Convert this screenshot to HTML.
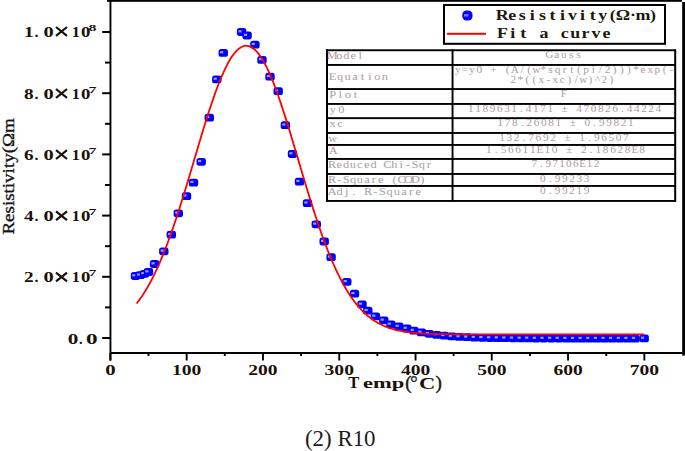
<!DOCTYPE html>
<html><head><meta charset="utf-8"><style>
html,body{margin:0;padding:0;background:#fff;}
body{width:685px;height:451px;overflow:hidden;}
svg{display:block;}
.ax{font-family:"Liberation Serif",serif;font-weight:bold;font-size:15.5px;fill:#1a1208;}
.ax2{font-family:"Liberation Serif",serif;font-size:15.5px;fill:#111;stroke:#111;stroke-width:0.3px;}
.axx{font-family:"Liberation Serif",serif;font-weight:bold;font-size:19px;fill:#1a1208;}
.sup{font-family:"Liberation Serif",serif;font-weight:bold;font-size:9px;fill:#1a1208;}
.tbl{font-family:"Liberation Serif",serif;font-size:10.8px;fill:#ab9ca3;}
.tbr{font-family:"Liberation Serif",serif;font-size:9.8px;fill:#ab9ca3;}
.lg{font-family:"Liberation Serif",serif;font-weight:bold;font-size:13.8px;fill:#20180e;}
.tt{font-family:"Liberation Serif",serif;font-weight:bold;font-size:16.5px;fill:#1a1208;}
.yt{font-family:"Liberation Serif",serif;font-size:17.5px;fill:#151515;stroke:#151515;stroke-width:0.35px;}
.par{font-family:"Liberation Serif",serif;font-size:19px;fill:#151515;stroke:#151515;stroke-width:0.4px;}
.cap{font-family:"Liberation Serif",serif;font-size:22.5px;fill:#1c1c1c;}
</style></head><body>
<svg width="685" height="451" viewBox="0 0 685 451">
<rect width="685" height="451" fill="#fff"/>
<g fill="#000">
<rect x="107" y="0" width="575" height="1.8"/>
<rect x="682.2" y="2" width="2.8" height="353.6"/>
<rect x="109.5" y="0" width="1.9" height="360.5"/>
<rect x="110" y="352" width="575" height="2"/>
<rect x="109.4" y="353" width="1.9" height="7.5"/>
<rect x="147.5" y="353" width="1.9" height="3"/>
<rect x="185.7" y="353" width="1.9" height="7.5"/>
<rect x="223.8" y="353" width="1.9" height="3"/>
<rect x="262.0" y="353" width="1.9" height="7.5"/>
<rect x="300.1" y="353" width="1.9" height="3"/>
<rect x="338.3" y="353" width="1.9" height="7.5"/>
<rect x="376.4" y="353" width="1.9" height="3"/>
<rect x="414.6" y="353" width="1.9" height="7.5"/>
<rect x="452.7" y="353" width="1.9" height="3"/>
<rect x="490.8" y="353" width="1.9" height="7.5"/>
<rect x="529.0" y="353" width="1.9" height="3"/>
<rect x="567.1" y="353" width="1.9" height="7.5"/>
<rect x="605.3" y="353" width="1.9" height="3"/>
<rect x="643.4" y="353" width="1.9" height="7.5"/>
<rect x="102.2" y="337.0" width="8.3" height="2"/>
<rect x="105" y="306.4" width="5.5" height="2"/>
<rect x="102.2" y="275.8" width="8.3" height="2"/>
<rect x="105" y="245.2" width="5.5" height="2"/>
<rect x="102.2" y="214.6" width="8.3" height="2"/>
<rect x="105" y="184.0" width="5.5" height="2"/>
<rect x="102.2" y="153.4" width="8.3" height="2"/>
<rect x="105" y="122.8" width="5.5" height="2"/>
<rect x="102.2" y="92.2" width="8.3" height="2"/>
<rect x="105" y="61.6" width="5.5" height="2"/>
<rect x="102.2" y="31.0" width="8.3" height="2"/>
</g>
<g>
<rect x="130.8" y="272.1" width="9.4" height="7.8" rx="2.6" fill="#0000ff"/><rect x="132.3" y="274.2" width="3.2" height="2.2" fill="#9a9aff"/>
<rect x="135.5" y="271.3" width="9.4" height="7.8" rx="2.6" fill="#0000ff"/><rect x="137.0" y="273.4" width="3.2" height="2.2" fill="#9a9aff"/>
<rect x="139.8" y="269.9" width="9.4" height="7.8" rx="2.6" fill="#0000ff"/><rect x="141.3" y="272.0" width="3.2" height="2.2" fill="#9a9aff"/>
<rect x="143.8" y="268.1" width="9.4" height="7.8" rx="2.6" fill="#0000ff"/><rect x="145.3" y="270.2" width="3.2" height="2.2" fill="#9a9aff"/>
<rect x="149.9" y="260.1" width="9.4" height="7.8" rx="2.6" fill="#0000ff"/><rect x="151.4" y="262.2" width="3.2" height="2.2" fill="#9a9aff"/>
<rect x="159.1" y="247.4" width="9.4" height="7.8" rx="2.6" fill="#0000ff"/><rect x="160.6" y="249.5" width="3.2" height="2.2" fill="#9a9aff"/>
<rect x="166.6" y="230.8" width="9.4" height="7.8" rx="2.6" fill="#0000ff"/><rect x="168.1" y="232.9" width="3.2" height="2.2" fill="#9a9aff"/>
<rect x="173.6" y="209.4" width="9.4" height="7.8" rx="2.6" fill="#0000ff"/><rect x="175.1" y="211.5" width="3.2" height="2.2" fill="#9a9aff"/>
<rect x="181.8" y="192.3" width="9.4" height="7.8" rx="2.6" fill="#0000ff"/><rect x="183.3" y="194.4" width="3.2" height="2.2" fill="#9a9aff"/>
<rect x="188.8" y="178.7" width="9.4" height="7.8" rx="2.6" fill="#0000ff"/><rect x="190.3" y="180.8" width="3.2" height="2.2" fill="#9a9aff"/>
<rect x="196.5" y="157.9" width="9.4" height="7.8" rx="2.6" fill="#0000ff"/><rect x="198.0" y="160.0" width="3.2" height="2.2" fill="#9a9aff"/>
<rect x="204.6" y="113.7" width="9.4" height="7.8" rx="2.6" fill="#0000ff"/><rect x="206.1" y="115.8" width="3.2" height="2.2" fill="#9a9aff"/>
<rect x="212.1" y="75.5" width="9.4" height="7.8" rx="2.6" fill="#0000ff"/><rect x="213.6" y="77.6" width="3.2" height="2.2" fill="#9a9aff"/>
<rect x="218.6" y="49.0" width="9.4" height="7.8" rx="2.6" fill="#0000ff"/><rect x="220.1" y="51.1" width="3.2" height="2.2" fill="#9a9aff"/>
<rect x="236.9" y="28.1" width="9.4" height="7.8" rx="2.6" fill="#0000ff"/><rect x="238.4" y="30.2" width="3.2" height="2.2" fill="#9a9aff"/>
<rect x="242.4" y="31.6" width="9.4" height="7.8" rx="2.6" fill="#0000ff"/><rect x="243.9" y="33.7" width="3.2" height="2.2" fill="#9a9aff"/>
<rect x="250.2" y="40.7" width="9.4" height="7.8" rx="2.6" fill="#0000ff"/><rect x="251.7" y="42.8" width="3.2" height="2.2" fill="#9a9aff"/>
<rect x="257.3" y="56.0" width="9.4" height="7.8" rx="2.6" fill="#0000ff"/><rect x="258.8" y="58.1" width="3.2" height="2.2" fill="#9a9aff"/>
<rect x="265.3" y="72.8" width="9.4" height="7.8" rx="2.6" fill="#0000ff"/><rect x="266.8" y="74.9" width="3.2" height="2.2" fill="#9a9aff"/>
<rect x="273.5" y="87.3" width="9.4" height="7.8" rx="2.6" fill="#0000ff"/><rect x="275.0" y="89.4" width="3.2" height="2.2" fill="#9a9aff"/>
<rect x="280.7" y="121.3" width="9.4" height="7.8" rx="2.6" fill="#0000ff"/><rect x="282.2" y="123.4" width="3.2" height="2.2" fill="#9a9aff"/>
<rect x="287.8" y="150.1" width="9.4" height="7.8" rx="2.6" fill="#0000ff"/><rect x="289.3" y="152.2" width="3.2" height="2.2" fill="#9a9aff"/>
<rect x="294.8" y="177.7" width="9.4" height="7.8" rx="2.6" fill="#0000ff"/><rect x="296.3" y="179.8" width="3.2" height="2.2" fill="#9a9aff"/>
<rect x="302.8" y="199.3" width="9.4" height="7.8" rx="2.6" fill="#0000ff"/><rect x="304.3" y="201.4" width="3.2" height="2.2" fill="#9a9aff"/>
<rect x="311.6" y="220.4" width="9.4" height="7.8" rx="2.6" fill="#0000ff"/><rect x="313.1" y="222.5" width="3.2" height="2.2" fill="#9a9aff"/>
<rect x="319.5" y="237.6" width="9.4" height="7.8" rx="2.6" fill="#0000ff"/><rect x="321.0" y="239.7" width="3.2" height="2.2" fill="#9a9aff"/>
<rect x="326.4" y="253.3" width="9.4" height="7.8" rx="2.6" fill="#0000ff"/><rect x="327.9" y="255.4" width="3.2" height="2.2" fill="#9a9aff"/>
<rect x="342.1" y="277.9" width="9.4" height="7.8" rx="2.6" fill="#0000ff"/><rect x="343.6" y="280.0" width="3.2" height="2.2" fill="#9a9aff"/>
<rect x="349.8" y="289.8" width="9.4" height="7.8" rx="2.6" fill="#0000ff"/><rect x="351.3" y="291.9" width="3.2" height="2.2" fill="#9a9aff"/>
<rect x="357.3" y="300.5" width="9.4" height="7.8" rx="2.6" fill="#0000ff"/><rect x="358.8" y="302.6" width="3.2" height="2.2" fill="#9a9aff"/>
<rect x="363.1" y="306.8" width="9.4" height="7.8" rx="2.6" fill="#0000ff"/><rect x="364.6" y="308.9" width="3.2" height="2.2" fill="#9a9aff"/>
<rect x="370.7" y="312.5" width="9.4" height="7.8" rx="2.6" fill="#0000ff"/><rect x="372.2" y="314.6" width="3.2" height="2.2" fill="#9a9aff"/>
<rect x="379.1" y="316.4" width="9.4" height="7.8" rx="2.6" fill="#0000ff"/><rect x="380.6" y="318.5" width="3.2" height="2.2" fill="#9a9aff"/>
<rect x="386.2" y="320.5" width="9.4" height="7.8" rx="2.6" fill="#0000ff"/><rect x="387.7" y="322.6" width="3.2" height="2.2" fill="#9a9aff"/>
<rect x="394.1" y="322.6" width="9.4" height="7.8" rx="2.6" fill="#0000ff"/><rect x="395.6" y="324.7" width="3.2" height="2.2" fill="#9a9aff"/>
<rect x="402.1" y="324.6" width="9.4" height="7.8" rx="2.6" fill="#0000ff"/><rect x="403.6" y="326.7" width="3.2" height="2.2" fill="#9a9aff"/>
<rect x="409.2" y="326.7" width="9.4" height="7.8" rx="2.6" fill="#0000ff"/><rect x="410.7" y="328.8" width="3.2" height="2.2" fill="#9a9aff"/>
<rect x="416.8" y="328.5" width="9.4" height="7.8" rx="2.6" fill="#0000ff"/><rect x="418.3" y="330.6" width="3.2" height="2.2" fill="#9a9aff"/>
<rect x="424.4" y="329.9" width="9.4" height="7.8" rx="2.6" fill="#0000ff"/><rect x="425.9" y="332.0" width="3.2" height="2.2" fill="#9a9aff"/>
<rect x="432.1" y="331.0" width="9.4" height="7.8" rx="2.6" fill="#0000ff"/><rect x="433.6" y="333.1" width="3.2" height="2.2" fill="#9a9aff"/>
<rect x="439.7" y="331.8" width="9.4" height="7.8" rx="2.6" fill="#0000ff"/><rect x="441.2" y="333.9" width="3.2" height="2.2" fill="#9a9aff"/>
<rect x="447.3" y="332.5" width="9.4" height="7.8" rx="2.6" fill="#0000ff"/><rect x="448.8" y="334.6" width="3.2" height="2.2" fill="#9a9aff"/>
<rect x="454.9" y="333.0" width="9.4" height="7.8" rx="2.6" fill="#0000ff"/><rect x="456.4" y="335.1" width="3.2" height="2.2" fill="#9a9aff"/>
<rect x="462.6" y="333.3" width="9.4" height="7.8" rx="2.6" fill="#0000ff"/><rect x="464.1" y="335.4" width="3.2" height="2.2" fill="#9a9aff"/>
<rect x="470.2" y="333.7" width="9.4" height="7.8" rx="2.6" fill="#0000ff"/><rect x="471.7" y="335.8" width="3.2" height="2.2" fill="#9a9aff"/>
<rect x="477.8" y="333.9" width="9.4" height="7.8" rx="2.6" fill="#0000ff"/><rect x="479.3" y="336.0" width="3.2" height="2.2" fill="#9a9aff"/>
<rect x="485.5" y="334.1" width="9.4" height="7.8" rx="2.6" fill="#0000ff"/><rect x="487.0" y="336.2" width="3.2" height="2.2" fill="#9a9aff"/>
<rect x="493.1" y="334.2" width="9.4" height="7.8" rx="2.6" fill="#0000ff"/><rect x="494.6" y="336.3" width="3.2" height="2.2" fill="#9a9aff"/>
<rect x="500.7" y="334.3" width="9.4" height="7.8" rx="2.6" fill="#0000ff"/><rect x="502.2" y="336.4" width="3.2" height="2.2" fill="#9a9aff"/>
<rect x="508.4" y="334.4" width="9.4" height="7.8" rx="2.6" fill="#0000ff"/><rect x="509.9" y="336.5" width="3.2" height="2.2" fill="#9a9aff"/>
<rect x="516.0" y="334.5" width="9.4" height="7.8" rx="2.6" fill="#0000ff"/><rect x="517.5" y="336.6" width="3.2" height="2.2" fill="#9a9aff"/>
<rect x="523.6" y="334.5" width="9.4" height="7.8" rx="2.6" fill="#0000ff"/><rect x="525.1" y="336.6" width="3.2" height="2.2" fill="#9a9aff"/>
<rect x="531.2" y="334.6" width="9.4" height="7.8" rx="2.6" fill="#0000ff"/><rect x="532.7" y="336.7" width="3.2" height="2.2" fill="#9a9aff"/>
<rect x="538.9" y="334.6" width="9.4" height="7.8" rx="2.6" fill="#0000ff"/><rect x="540.4" y="336.7" width="3.2" height="2.2" fill="#9a9aff"/>
<rect x="546.5" y="334.6" width="9.4" height="7.8" rx="2.6" fill="#0000ff"/><rect x="548.0" y="336.7" width="3.2" height="2.2" fill="#9a9aff"/>
<rect x="554.1" y="334.6" width="9.4" height="7.8" rx="2.6" fill="#0000ff"/><rect x="555.6" y="336.7" width="3.2" height="2.2" fill="#9a9aff"/>
<rect x="561.8" y="334.7" width="9.4" height="7.8" rx="2.6" fill="#0000ff"/><rect x="563.3" y="336.8" width="3.2" height="2.2" fill="#9a9aff"/>
<rect x="569.4" y="334.7" width="9.4" height="7.8" rx="2.6" fill="#0000ff"/><rect x="570.9" y="336.8" width="3.2" height="2.2" fill="#9a9aff"/>
<rect x="577.0" y="334.7" width="9.4" height="7.8" rx="2.6" fill="#0000ff"/><rect x="578.5" y="336.8" width="3.2" height="2.2" fill="#9a9aff"/>
<rect x="584.7" y="334.7" width="9.4" height="7.8" rx="2.6" fill="#0000ff"/><rect x="586.2" y="336.8" width="3.2" height="2.2" fill="#9a9aff"/>
<rect x="592.3" y="334.7" width="9.4" height="7.8" rx="2.6" fill="#0000ff"/><rect x="593.8" y="336.8" width="3.2" height="2.2" fill="#9a9aff"/>
<rect x="599.9" y="334.7" width="9.4" height="7.8" rx="2.6" fill="#0000ff"/><rect x="601.4" y="336.8" width="3.2" height="2.2" fill="#9a9aff"/>
<rect x="607.5" y="334.7" width="9.4" height="7.8" rx="2.6" fill="#0000ff"/><rect x="609.0" y="336.8" width="3.2" height="2.2" fill="#9a9aff"/>
<rect x="615.2" y="334.7" width="9.4" height="7.8" rx="2.6" fill="#0000ff"/><rect x="616.7" y="336.8" width="3.2" height="2.2" fill="#9a9aff"/>
<rect x="622.8" y="334.7" width="9.4" height="7.8" rx="2.6" fill="#0000ff"/><rect x="624.3" y="336.8" width="3.2" height="2.2" fill="#9a9aff"/>
<rect x="630.4" y="334.7" width="9.4" height="7.8" rx="2.6" fill="#0000ff"/><rect x="631.9" y="336.8" width="3.2" height="2.2" fill="#9a9aff"/>
<rect x="639.5" y="334.5" width="9.4" height="7.8" rx="2.6" fill="#0000ff"/><rect x="641.0" y="336.6" width="3.2" height="2.2" fill="#9a9aff"/>
</g>
<path d="M136.6,303.5 L137.6,302.2 L138.6,300.9 L139.6,299.5 L140.6,298.1 L141.6,296.7 L142.6,295.2 L143.6,293.7 L144.6,292.1 L145.6,290.5 L146.6,288.8 L147.6,287.1 L148.6,285.3 L149.6,283.5 L150.6,281.7 L151.6,279.8 L152.6,277.8 L153.6,275.8 L154.6,273.8 L155.6,271.7 L156.6,269.6 L157.6,267.4 L158.6,265.2 L159.6,262.9 L160.6,260.6 L161.6,258.2 L162.6,255.8 L163.6,253.3 L164.6,250.8 L165.6,248.2 L166.6,245.6 L167.6,243.0 L168.6,240.3 L169.6,237.5 L170.6,234.7 L171.6,231.9 L172.6,229.1 L173.6,226.2 L174.6,223.2 L175.6,220.2 L176.6,217.2 L177.6,214.2 L178.6,211.1 L179.6,208.0 L180.6,204.8 L181.6,201.7 L182.6,198.5 L183.6,195.2 L184.6,192.0 L185.6,188.7 L186.6,185.4 L187.6,182.1 L188.6,178.8 L189.6,175.4 L190.6,172.1 L191.6,168.7 L192.6,165.3 L193.6,162.0 L194.6,158.6 L195.6,155.2 L196.6,151.9 L197.6,148.5 L198.6,145.1 L199.6,141.8 L200.6,138.5 L201.6,135.1 L202.6,131.8 L203.6,128.6 L204.6,125.3 L205.6,122.1 L206.6,118.9 L207.6,115.8 L208.6,112.6 L209.6,109.5 L210.6,106.5 L211.6,103.5 L212.6,100.6 L213.6,97.7 L214.6,94.8 L215.6,92.0 L216.6,89.3 L217.6,86.6 L218.6,84.0 L219.6,81.5 L220.6,79.0 L221.6,76.6 L222.6,74.3 L223.6,72.0 L224.6,69.9 L225.6,67.8 L226.6,65.8 L227.6,63.9 L228.6,62.0 L229.6,60.3 L230.6,58.6 L231.6,57.1 L232.6,55.6 L233.6,54.3 L234.6,53.0 L235.6,51.8 L236.6,50.8 L237.6,49.8 L238.6,48.9 L239.6,48.2 L240.6,47.5 L241.6,47.0 L242.6,46.5 L243.6,46.2 L244.6,45.9 L245.6,45.8 L246.6,45.8 L247.6,45.9 L248.6,46.1 L249.6,46.4 L250.6,46.8 L251.6,47.3 L252.6,48.0 L253.6,48.7 L254.6,49.5 L255.6,50.4 L256.6,51.5 L257.6,52.6 L258.6,53.9 L259.6,55.2 L260.6,56.6 L261.6,58.2 L262.6,59.8 L263.6,61.5 L264.6,63.3 L265.6,65.2 L266.6,67.2 L267.6,69.2 L268.6,71.4 L269.6,73.6 L270.6,75.9 L271.6,78.3 L272.6,80.7 L273.6,83.2 L274.6,85.8 L275.6,88.5 L276.6,91.2 L277.6,94.0 L278.6,96.8 L279.6,99.7 L280.6,102.6 L281.6,105.6 L282.6,108.6 L283.6,111.7 L284.6,114.8 L285.6,117.9 L286.6,121.1 L287.6,124.3 L288.6,127.6 L289.6,130.8 L290.6,134.1 L291.6,137.4 L292.6,140.8 L293.6,144.1 L294.6,147.5 L295.6,150.8 L296.6,154.2 L297.6,157.6 L298.6,160.9 L299.6,164.3 L300.6,167.7 L301.6,171.0 L302.6,174.4 L303.6,177.7 L304.6,181.1 L305.6,184.4 L306.6,187.7 L307.6,191.0 L308.6,194.2 L309.6,197.5 L310.6,200.7 L311.6,203.9 L312.6,207.0 L313.6,210.1 L314.6,213.2 L315.6,216.3 L316.6,219.3 L317.6,222.3 L318.6,225.3 L319.6,228.2 L320.6,231.0 L321.6,233.9 L322.6,236.7 L323.6,239.4 L324.6,242.1 L325.6,244.8 L326.6,247.4 L327.6,250.0 L328.6,252.5 L329.6,255.0 L330.6,257.4 L331.6,259.8 L332.6,262.2 L333.6,264.5 L334.6,266.7 L335.6,268.9 L336.6,271.1 L337.6,273.2 L338.6,275.2 L339.6,277.2 L340.6,279.2 L341.6,281.1 L342.6,283.0 L343.6,284.8 L344.6,286.5 L345.6,288.3 L346.6,290.0 L347.6,291.6 L348.6,293.2 L349.6,294.7 L350.6,296.2 L351.6,297.7 L352.6,299.1 L353.6,300.5 L354.6,301.8 L355.6,303.1 L356.6,304.4 L357.6,305.6 L358.6,306.7 L359.6,307.9 L360.6,309.0 L361.6,310.0 L362.6,311.1 L363.6,312.1 L364.6,313.0 L365.6,313.9 L366.6,314.8 L367.6,315.7 L368.6,316.5 L369.6,317.3 L370.6,318.1 L371.6,318.8 L372.6,319.5 L373.6,320.2 L374.6,320.9 L375.6,321.5 L376.6,322.1 L377.6,322.7 L378.6,323.3 L379.6,323.8 L380.6,324.3 L381.6,324.8 L382.6,325.3 L383.6,325.7 L384.6,326.2 L385.6,326.6 L386.6,327.0 L387.6,327.3 L388.6,327.7 L389.6,328.1 L390.6,328.4 L391.6,328.7 L392.6,329.0 L393.6,329.3 L394.6,329.6 L395.6,329.8 L396.6,330.1 L397.6,330.3 L398.6,330.5 L399.6,330.7 L400.6,330.9 L401.6,331.1 L402.6,331.3 L403.6,331.5 L404.6,331.7 L405.6,331.8 L406.6,332.0 L407.6,332.1 L408.6,332.2 L409.6,332.4 L410.6,332.5 L411.6,332.6 L412.6,332.7 L413.6,332.8 L414.6,332.9 L415.6,333.0 L416.6,333.1 L417.6,333.2 L418.6,333.2 L419.6,333.3 L420.6,333.4 L421.6,333.4 L422.6,333.5 L423.6,333.6 L424.6,333.6 L425.6,333.7 L426.6,333.7 L427.6,333.8 L428.6,333.8 L429.6,333.8 L430.6,333.9 L431.6,333.9 L432.6,333.9 L433.6,334.0 L434.6,334.0 L435.6,334.0 L436.6,334.1 L437.6,334.1 L438.6,334.1 L439.6,334.1 L440.6,334.1 L441.6,334.2 L442.6,334.2 L443.6,334.2 L444.6,334.2 L445.6,334.2 L446.6,334.2 L447.6,334.2 L448.6,334.3 L449.6,334.3 L450.6,334.3 L451.6,334.3 L452.6,334.3 L453.6,334.3 L454.6,334.3 L455.6,334.3 L456.6,334.3 L457.6,334.3 L458.6,334.3 L459.6,334.3 L460.6,334.3 L461.6,334.3 L462.6,334.4 L463.6,334.4 L464.6,334.4 L465.6,334.4 L466.6,334.4 L467.6,334.4 L468.6,334.4 L469.6,334.4 L470.6,334.4 L471.6,334.4 L472.6,334.4 L473.6,334.4 L474.6,334.4 L475.6,334.4 L476.6,334.4 L477.6,334.4 L478.6,334.4 L479.6,334.4 L480.6,334.4 L481.6,334.4 L482.6,334.4 L483.6,334.4 L484.6,334.4 L485.6,334.4 L486.6,334.4 L487.6,334.4 L488.6,334.4 L489.6,334.4 L490.6,334.4 L491.6,334.4 L492.6,334.4 L493.6,334.4 L494.6,334.4 L495.6,334.4 L496.6,334.4 L497.6,334.4 L498.6,334.4 L499.6,334.4 L500.6,334.4 L501.6,334.4 L502.6,334.4 L503.6,334.4 L504.6,334.4 L505.6,334.4 L506.6,334.4 L507.6,334.4 L508.6,334.4 L509.6,334.4 L510.6,334.4 L511.6,334.4 L512.6,334.4 L513.6,334.4 L514.6,334.4 L515.6,334.4 L516.6,334.4 L517.6,334.4 L518.6,334.4 L519.6,334.4 L520.6,334.4 L521.6,334.4 L522.6,334.4 L523.6,334.4 L524.6,334.4 L525.6,334.4 L526.6,334.4 L527.6,334.4 L528.6,334.4 L529.6,334.4 L530.6,334.4 L531.6,334.4 L532.6,334.4 L533.6,334.4 L534.6,334.4 L535.6,334.4 L536.6,334.4 L537.6,334.4 L538.6,334.4 L539.6,334.4 L540.6,334.4 L541.6,334.4 L542.6,334.4 L543.6,334.4 L544.6,334.4 L545.6,334.4 L546.6,334.4 L547.6,334.4 L548.6,334.4 L549.6,334.4 L550.6,334.4 L551.6,334.4 L552.6,334.4 L553.6,334.4 L554.6,334.4 L555.6,334.4 L556.6,334.4 L557.6,334.4 L558.6,334.4 L559.6,334.4 L560.6,334.4 L561.6,334.4 L562.6,334.4 L563.6,334.4 L564.6,334.4 L565.6,334.4 L566.6,334.4 L567.6,334.4 L568.6,334.4 L569.6,334.4 L570.6,334.4 L571.6,334.4 L572.6,334.4 L573.6,334.4 L574.6,334.4 L575.6,334.4 L576.6,334.4 L577.6,334.4 L578.6,334.4 L579.6,334.4 L580.6,334.4 L581.6,334.4 L582.6,334.4 L583.6,334.4 L584.6,334.4 L585.6,334.4 L586.6,334.4 L587.6,334.4 L588.6,334.4 L589.6,334.4 L590.6,334.4 L591.6,334.4 L592.6,334.4 L593.6,334.4 L594.6,334.4 L595.6,334.4 L596.6,334.4 L597.6,334.4 L598.6,334.4 L599.6,334.4 L600.6,334.4 L601.6,334.4 L602.6,334.4 L603.6,334.4 L604.6,334.4 L605.6,334.4 L606.6,334.4 L607.6,334.4 L608.6,334.4 L609.6,334.4 L610.6,334.4 L611.6,334.4 L612.6,334.4 L613.6,334.4 L614.6,334.4 L615.6,334.4 L616.6,334.4 L617.6,334.4 L618.6,334.4 L619.6,334.4 L620.6,334.4 L621.6,334.4 L622.6,334.4 L623.6,334.4 L624.6,334.4 L625.6,334.4 L626.6,334.4 L627.6,334.4 L628.6,334.4 L629.6,334.4 L630.6,334.4 L631.6,334.4 L632.6,334.4 L633.6,334.4 L634.6,334.4 L635.6,334.4 L636.6,334.4 L637.6,334.4 L638.6,334.4 L639.6,334.4 L640.6,334.4 L641.6,334.4 L642.6,334.4 L643.6,334.4 L644.2,334.4" fill="none" stroke="#ff0000" stroke-width="1.8"/>
<rect x="444" y="5" width="221" height="38.8" fill="none" stroke="#000" stroke-width="2"/>
<rect x="462.3" y="10.6" width="10.2" height="9.8" rx="4.2" fill="#0000ff"/><rect x="464" y="14" width="4.5" height="2.6" fill="#8c8cff" opacity="0.8"/>
<rect x="447" y="32.8" width="39" height="2" fill="#ff0000"/>
<text transform="scale(1.3,1)" x="386.33,394.06,401.79,409.52,417.25,424.98,432.71,440.44,448.17,455.90,463.63,471.37,479.10,486.83,494.56,502.29" y="19.7" text-anchor="middle" class="lg">Resistivity(Ω·m)</text>
<text transform="scale(1.3,1)" x="386.46,394.46,402.46,410.46,418.46,426.46,434.46,442.46,450.46,458.46,466.46" y="37.6" text-anchor="middle" class="lg">Fit a curve</text>
<rect x="326" y="49" width="350" height="153" fill="#fff"/>
<g fill="#000">
<rect x="326" y="49.3" width="350" height="1.9"/>
<rect x="326" y="64" width="350" height="1.9"/>
<rect x="326" y="88.1" width="350" height="1.9"/>
<rect x="326" y="103" width="350" height="1.9"/>
<rect x="326" y="117.2" width="350" height="1.9"/>
<rect x="326" y="132" width="350" height="1.9"/>
<rect x="326" y="144" width="350" height="1.9"/>
<rect x="326" y="158" width="350" height="1.9"/>
<rect x="326" y="173" width="350" height="1.9"/>
<rect x="326" y="185" width="350" height="1.9"/>
<rect x="326" y="200" width="350" height="1.9"/>
<rect x="326" y="49.3" width="2" height="152.4"/>
<rect x="451.6" y="49.3" width="1.9" height="152.4"/>
<rect x="674.2" y="49.3" width="2" height="152.4"/>
</g>
<text transform="scale(1.15,1)" x="288.96,295.04,301.13,307.22,313.30" y="59.2" text-anchor="middle" class="tbl">Model</text>
<text transform="scale(1.15,1)" x="477.76,484.05,490.35,496.64,502.94" y="58.0" text-anchor="middle" class="tbr">Gauss</text>
<text transform="scale(1.15,1)" x="289.16,295.66,302.16,308.66,315.16,321.66,328.16,334.66" y="80.3" text-anchor="middle" class="tbl">Equation</text>
<text transform="scale(1.15,1)" x="398.14,404.34,410.53,416.73,422.93,429.12,435.32,441.52,447.71,453.91,460.11,466.30,472.50,478.69,484.89,491.09,497.28,503.48,509.68,515.87,522.07,528.27,534.46,540.66,546.85,553.05,559.25,565.44,571.64,577.84,584.03" y="72.8" text-anchor="middle" class="tbr">y=y0 + (A/(w*sqrt(pi/2)))*exp(-</text>
<text transform="scale(1.15,1)" x="446.35,452.43,458.52,464.61,470.70,476.78,482.87,488.96,495.04,501.13,507.22,513.30,519.39,525.48,531.57" y="83.5" text-anchor="middle" class="tbr">2*((x-xc)/w)^2)</text>
<text transform="scale(1.15,1)" x="289.24,295.89,302.54,309.20" y="98.0" text-anchor="middle" class="tbl">Plot</text>
<text transform="scale(1.15,1)" x="490.43" y="96.8" text-anchor="middle" class="tbr">F</text>
<text transform="scale(1.15,1)" x="289.52,296.74" y="112.9" text-anchor="middle" class="tbl">y0</text>
<text transform="scale(1.15,1)" x="409.48,415.75,422.02,428.29,434.57,440.84,447.11,453.38,459.65,465.92,472.19,478.46,484.73,491.00,497.27,503.54,509.81,516.08,522.35,528.62,534.89,541.16,547.43,553.71,559.98,566.25,572.52" y="111.7" text-anchor="middle" class="tbr">1189631.4171 ± 470826.44224</text>
<text transform="scale(1.15,1)" x="289.17,295.70" y="127.1" text-anchor="middle" class="tbl">xc</text>
<text transform="scale(1.15,1)" x="435.06,441.37,447.67,453.97,460.27,466.57,472.88,479.18,485.48,491.78,498.08,504.39,510.69,516.99,523.29,529.59,535.90,542.20,548.50" y="125.9" text-anchor="middle" class="tbr">178.26081 ± 0.99821</text>
<text transform="scale(1.15,1)" x="289.39" y="141.9" text-anchor="middle" class="tbl">w</text>
<text transform="scale(1.15,1)" x="436.56,442.89,449.22,455.56,461.89,468.22,474.56,480.89,487.22,493.56,499.89,506.22,512.56,518.89,525.22,531.56,537.89,544.22" y="140.7" text-anchor="middle" class="tbr">132.7692 ± 1.96507</text>
<text transform="scale(1.15,1)" x="289.83" y="153.9" text-anchor="middle" class="tbl">A</text>
<text transform="scale(1.15,1)" x="425.17,431.52,437.86,444.20,450.55,456.89,463.24,469.58,475.92,482.27,488.61,494.95,501.30,507.64,513.99,520.33,526.67,533.02,539.36,545.71,552.05,558.39" y="152.7" text-anchor="middle" class="tbr">1.56611E10 ± 2.18628E8</text>
<text transform="scale(1.15,1)" x="288.91,294.91,300.91,306.91,312.91,318.91,324.91,330.91,336.91,342.91,348.91,354.91,360.91,366.91,372.91" y="167.9" text-anchor="middle" class="tbl">Reduced Chi-Sqr</text>
<text transform="scale(1.15,1)" x="464.74,470.74,476.74,482.74,488.74,494.74,500.74,506.74,512.74,518.74" y="166.7" text-anchor="middle" class="tbr">7.97106E12</text>
<text transform="scale(1.15,1)" x="288.93,294.95,300.98,307.00,313.02,319.05,325.07,331.10,337.12,343.15,349.17,355.20,361.22,367.25" y="182.9" text-anchor="middle" class="tbl">R-Square (COD)</text>
<text transform="scale(1.15,1)" x="472.04,478.39,484.74,491.09,497.43,503.78,510.13" y="181.7" text-anchor="middle" class="tbr">0.99233</text>
<text transform="scale(1.15,1)" x="289.02,295.24,301.46,307.69,313.91,320.13,326.35,332.57,338.79,345.01,351.23,357.45,363.67" y="194.9" text-anchor="middle" class="tbl">Adj. R-Square</text>
<text transform="scale(1.15,1)" x="472.04,478.39,484.74,491.09,497.43,503.78,510.13" y="193.7" text-anchor="middle" class="tbr">0.99219</text>
<text x="24.0" y="282.4" class="ax" textLength="9.6" lengthAdjust="spacingAndGlyphs">2</text>
<text x="34.6" y="282.4" class="ax" textLength="4.0" lengthAdjust="spacingAndGlyphs">.</text>
<text x="43.6" y="282.4" class="ax" textLength="10.2" lengthAdjust="spacingAndGlyphs">0</text>
<path d="M56,272.6 L67,281.4 M67,272.6 L56,281.4" stroke="#1a1208" stroke-width="2.2" fill="none"/>
<text x="71.8" y="282.4" class="ax" textLength="8.2" lengthAdjust="spacingAndGlyphs">1</text>
<text x="81.0" y="282.4" class="ax" textLength="9.4" lengthAdjust="spacingAndGlyphs">0</text>
<text x="88.4" y="276.2" class="sup" textLength="8.0" lengthAdjust="spacingAndGlyphs">7</text>
<text x="24.0" y="221.2" class="ax" textLength="9.6" lengthAdjust="spacingAndGlyphs">4</text>
<text x="34.6" y="221.2" class="ax" textLength="4.0" lengthAdjust="spacingAndGlyphs">.</text>
<text x="43.6" y="221.2" class="ax" textLength="10.2" lengthAdjust="spacingAndGlyphs">0</text>
<path d="M56,211.4 L67,220.2 M67,211.4 L56,220.2" stroke="#1a1208" stroke-width="2.2" fill="none"/>
<text x="71.8" y="221.2" class="ax" textLength="8.2" lengthAdjust="spacingAndGlyphs">1</text>
<text x="81.0" y="221.2" class="ax" textLength="9.4" lengthAdjust="spacingAndGlyphs">0</text>
<text x="88.4" y="215.0" class="sup" textLength="8.0" lengthAdjust="spacingAndGlyphs">7</text>
<text x="24.0" y="160.0" class="ax" textLength="9.6" lengthAdjust="spacingAndGlyphs">6</text>
<text x="34.6" y="160.0" class="ax" textLength="4.0" lengthAdjust="spacingAndGlyphs">.</text>
<text x="43.6" y="160.0" class="ax" textLength="10.2" lengthAdjust="spacingAndGlyphs">0</text>
<path d="M56,150.2 L67,159.0 M67,150.2 L56,159.0" stroke="#1a1208" stroke-width="2.2" fill="none"/>
<text x="71.8" y="160.0" class="ax" textLength="8.2" lengthAdjust="spacingAndGlyphs">1</text>
<text x="81.0" y="160.0" class="ax" textLength="9.4" lengthAdjust="spacingAndGlyphs">0</text>
<text x="88.4" y="153.8" class="sup" textLength="8.0" lengthAdjust="spacingAndGlyphs">7</text>
<text x="24.0" y="98.8" class="ax" textLength="9.6" lengthAdjust="spacingAndGlyphs">8</text>
<text x="34.6" y="98.8" class="ax" textLength="4.0" lengthAdjust="spacingAndGlyphs">.</text>
<text x="43.6" y="98.8" class="ax" textLength="10.2" lengthAdjust="spacingAndGlyphs">0</text>
<path d="M56,89.0 L67,97.8 M67,89.0 L56,97.8" stroke="#1a1208" stroke-width="2.2" fill="none"/>
<text x="71.8" y="98.8" class="ax" textLength="8.2" lengthAdjust="spacingAndGlyphs">1</text>
<text x="81.0" y="98.8" class="ax" textLength="9.4" lengthAdjust="spacingAndGlyphs">0</text>
<text x="88.4" y="92.6" class="sup" textLength="8.0" lengthAdjust="spacingAndGlyphs">7</text>
<text x="24.0" y="36.8" class="ax" textLength="9.6" lengthAdjust="spacingAndGlyphs">1</text>
<text x="34.6" y="36.8" class="ax" textLength="4.0" lengthAdjust="spacingAndGlyphs">.</text>
<text x="43.6" y="36.8" class="ax" textLength="10.2" lengthAdjust="spacingAndGlyphs">0</text>
<path d="M56,27.0 L67,35.8 M67,27.0 L56,35.8" stroke="#1a1208" stroke-width="2.2" fill="none"/>
<text x="71.8" y="36.8" class="ax" textLength="8.2" lengthAdjust="spacingAndGlyphs">1</text>
<text x="81.0" y="36.8" class="ax" textLength="9.4" lengthAdjust="spacingAndGlyphs">0</text>
<text x="88.4" y="30.6" class="sup" textLength="8.0" lengthAdjust="spacingAndGlyphs">8</text>
<text x="67.8" y="343.6" class="ax" textLength="10.6" lengthAdjust="spacingAndGlyphs">0</text>
<text x="79.0" y="343.6" class="ax" textLength="3.6" lengthAdjust="spacingAndGlyphs">.</text>
<text x="86.0" y="343.6" class="ax" textLength="11.6" lengthAdjust="spacingAndGlyphs">0</text>
<text x="105.2" y="374.8" class="ax" textLength="10.4" lengthAdjust="spacingAndGlyphs">0</text>
<text x="172.0" y="374.8" class="ax" textLength="29.3" lengthAdjust="spacingAndGlyphs">100</text>
<text x="248.3" y="374.8" class="ax" textLength="29.3" lengthAdjust="spacingAndGlyphs">200</text>
<text x="324.6" y="374.8" class="ax" textLength="29.3" lengthAdjust="spacingAndGlyphs">300</text>
<text x="400.9" y="374.8" class="ax" textLength="29.3" lengthAdjust="spacingAndGlyphs">400</text>
<text x="477.2" y="374.8" class="ax" textLength="29.3" lengthAdjust="spacingAndGlyphs">500</text>
<text x="553.5" y="374.8" class="ax" textLength="29.3" lengthAdjust="spacingAndGlyphs">600</text>
<text x="629.8" y="374.8" class="ax" textLength="29.3" lengthAdjust="spacingAndGlyphs">700</text>
<text x="348.3" y="388.4" class="tt" textLength="11" lengthAdjust="spacingAndGlyphs">T</text>
<text x="363.0" y="388.4" class="tt" style="font-size:13.8px" textLength="41.2" lengthAdjust="spacingAndGlyphs">emp</text>
<text x="405.2" y="389.2" class="par">(</text>
<text x="410.2" y="389.0" class="par" style="font-size:18.5px">°</text>
<text x="419.0" y="388.6" class="tt" textLength="16.3" lengthAdjust="spacingAndGlyphs">C</text>
<text x="435.6" y="389.2" class="par">)</text>
<text transform="translate(14.2,234.6) rotate(-90)" class="yt" textLength="116.5" lengthAdjust="spacingAndGlyphs">Resistivity(Ωm</text>
<text x="305" y="446.3" class="cap" textLength="70.5" lengthAdjust="spacingAndGlyphs">(2) R10</text>
</svg>
</body></html>
